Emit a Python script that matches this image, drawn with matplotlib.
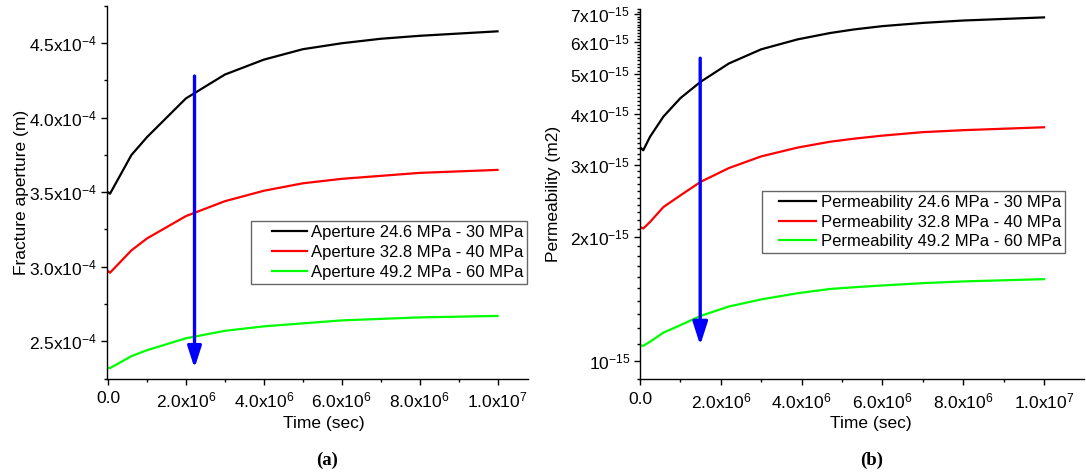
import numpy as np
import matplotlib
matplotlib.use('Agg')
import matplotlib.pyplot as plt
from matplotlib.lines import Line2D
from matplotlib.legend_handler import HandlerLine2D
from matplotlib.ticker import FixedLocator, NullFormatter

plt.rcParams['font.family'] = ['Liberation Sans', 'DejaVu Sans']
plt.rcParams['mathtext.fontset'] = 'custom'
plt.rcParams['mathtext.rm'] = 'Liberation Sans'
plt.rcParams['mathtext.default'] = 'regular'

# ---- data ----
# (a) fracture aperture (m) vs time (sec)
time_a = [0, 0.05e6, 0.6e6, 1e6, 2e6, 3e6, 4e6, 5e6, 6e6, 7e6, 8e6, 9e6, 1e7]
aperture_1 = [3.50e-4, 3.49e-4, 3.75e-4, 3.87e-4, 4.13e-4, 4.29e-4, 4.39e-4, 4.46e-4,
              4.50e-4, 4.53e-4, 4.55e-4, 4.565e-4, 4.58e-4]
aperture_2 = [2.97e-4, 2.96e-4, 3.11e-4, 3.19e-4, 3.34e-4, 3.44e-4, 3.51e-4, 3.56e-4,
              3.59e-4, 3.61e-4, 3.63e-4, 3.64e-4, 3.65e-4]
aperture_3 = [2.32e-4, 2.32e-4, 2.40e-4, 2.44e-4, 2.52e-4, 2.57e-4, 2.60e-4, 2.62e-4,
              2.64e-4, 2.65e-4, 2.66e-4, 2.665e-4, 2.67e-4]
labels_a = ['Aperture 24.6 MPa - 30 MPa', 'Aperture 32.8 MPa - 40 MPa',
            'Aperture 49.2 MPa - 60 MPa']

# (b) permeability (m2) vs time (sec)
time_b = [0, 0.08e6, 0.25e6, 0.58e6, 1e6, 1.5e6, 2.2e6, 3e6, 3.9e6, 4.7e6, 5.3e6,
          6e6, 7e6, 8e6, 9e6, 1e7]
perm_1 = [3.32, 3.26, 3.52, 3.94, 4.37, 4.79, 5.31, 5.75, 6.08, 6.30, 6.43,
          6.55, 6.67, 6.76, 6.82, 6.88]
perm_2 = [2.12, 2.10, 2.18, 2.37, 2.53, 2.73, 2.95, 3.15, 3.31, 3.42, 3.48,
          3.54, 3.61, 3.65, 3.68, 3.71]
perm_3 = [1.09, 1.086, 1.112, 1.17, 1.22, 1.285, 1.355, 1.41, 1.46, 1.495, 1.51,
          1.525, 1.545, 1.56, 1.57, 1.58]
perm_1 = [v * 1e-15 for v in perm_1]
perm_2 = [v * 1e-15 for v in perm_2]
perm_3 = [v * 1e-15 for v in perm_3]
labels_b = ['Permeability 24.6 MPa - 30 MPa', 'Permeability 32.8 MPa - 40 MPa',
            'Permeability 49.2 MPa - 60 MPa']

# arrows (time, start value, end value)
arrow_a = (2.22e6, 4.28e-4, 2.32e-4)
arrow_b = (1.49e6, 5.47e-15, 1.09e-15)

# ticks
x_ticks = [0, 2e6, 4e6, 6e6, 8e6, 1e7]
x_ticklabels = ['0.0', '2.0x10$^{6}$', '4.0x10$^{6}$', '6.0x10$^{6}$',
                '8.0x10$^{6}$', '1.0x10$^{7}$']
ya_ticks = [2.5e-4, 3.0e-4, 3.5e-4, 4.0e-4, 4.5e-4]
ya_ticklabels = ['2.5x10$^{-4}$', '3.0x10$^{-4}$', '3.5x10$^{-4}$',
                 '4.0x10$^{-4}$', '4.5x10$^{-4}$']
yb_ticks = [1e-15, 2e-15, 3e-15, 4e-15, 5e-15, 6e-15, 7e-15]
yb_ticklabels = ['10$^{-15}$', '2x10$^{-15}$', '3x10$^{-15}$', '4x10$^{-15}$',
                 '5x10$^{-15}$', '6x10$^{-15}$', '7x10$^{-15}$']

colors = ['black', '#ff0000', '#00ff00']

W, H = 1086, 475
fig = plt.figure(figsize=(W / 100, H / 100), dpi=100)


def px_rect(x0, y0, x1, y1):
    """axes rectangle from pixel edges (top-left origin)"""
    return [x0 / W, 1 - y1 / H, (x1 - x0) / W, (y1 - y0) / H]


ax_a = fig.add_axes(px_rect(106.5, 6, 527.9, 378.5))
ax_b = fig.add_axes(px_rect(640, 9.3, 1084, 379.3))


def style_axes(ax):
    for side in ['top', 'right']:
        ax.spines[side].set_visible(False)
    for side in ['left', 'bottom']:
        ax.spines[side].set_linewidth(1.0)
    ax.tick_params(which='major', direction='out', length=4, width=1.0,
                   labelsize=12.5, pad=3)
    ax.tick_params(which='minor', direction='out', length=2.5, width=1.0)
    ax.tick_params(axis='x', which='major', pad=5)
    ax.set_xticks(x_ticks)
    ax.set_xticklabels(x_ticklabels)
    ax.xaxis.set_minor_locator(FixedLocator(np.arange(1e6, 1.01e7, 2e6)))


# ---- panel (a) ----
lines_a = []
for ys, c in zip([aperture_1, aperture_2, aperture_3], colors):
    ln, = ax_a.plot(time_a, ys, color=c, lw=1.6)
    lines_a.append(ln)
ax_a.set_xlim(-0.04e6, 1.078e7)
ax_a.set_ylim(2.25e-4, 4.75e-4)
style_axes(ax_a)
ax_a.set_yticks(ya_ticks)
ax_a.set_yticklabels(ya_ticklabels)
ax_a.yaxis.set_minor_locator(FixedLocator(np.arange(2.25e-4, 4.8e-4, 0.5e-4)))
ax_a.set_xlabel('Time (sec)', fontsize=12.5)
ax_a.set_ylabel('Fracture aperture (m)', fontsize=12.5)
ax_a.xaxis.set_label_coords(0.515, -0.10)
ax_a.yaxis.set_label_coords(-0.185, 0.5)
ax_a.annotate('', xy=(arrow_a[0], arrow_a[2]), xytext=(arrow_a[0], arrow_a[1]),
              arrowprops=dict(arrowstyle='-|>,head_length=13,head_width=4.2',
                              mutation_scale=1, color='#0000ff', lw=2.4,
                              shrinkA=0, shrinkB=0))
fig.legend(lines_a, labels_a, loc='upper left',
           bbox_to_anchor=(250.7 / W, 1 - 221 / H), borderaxespad=0,
           fontsize=12, frameon=True, fancybox=False, edgecolor='#666666',
           framealpha=1, borderpad=0.25, labelspacing=0.28,
           handlelength=3.1, handletextpad=0.25,
           handler_map={Line2D: HandlerLine2D(xpad=1.0)})

# ---- panel (b) ----
lines_b = []
for ys, c in zip([perm_1, perm_2, perm_3], colors):
    ln, = ax_b.plot(time_b, ys, color=c, lw=1.6)
    lines_b.append(ln)
ax_b.set_yscale('log')
ax_b.set_xlim(0, 1.099e7)
ax_b.set_ylim(0.9e-15, 7.2e-15)
style_axes(ax_b)
ax_b.yaxis.set_major_locator(FixedLocator(yb_ticks))
ax_b.set_yticklabels(yb_ticklabels)
ax_b.yaxis.set_minor_locator(FixedLocator(np.arange(9, 73) * 1e-16))
ax_b.yaxis.set_minor_formatter(NullFormatter())
ax_b.tick_params(axis='y', which='minor', length=2)
ax_b.set_xlabel('Time (sec)', fontsize=12.5)
ax_b.set_ylabel('Permeability (m2)', fontsize=12.5)
ax_b.xaxis.set_label_coords(0.52, -0.099)
ax_b.yaxis.set_label_coords(-0.178, 0.5)
ax_b.annotate('', xy=(arrow_b[0], arrow_b[2]), xytext=(arrow_b[0], arrow_b[1]),
              arrowprops=dict(arrowstyle='-|>,head_length=14,head_width=4.5',
                              mutation_scale=1, color='#0000ff', lw=2.4,
                              shrinkA=0, shrinkB=0))
fig.legend(lines_b, labels_b, loc='upper left',
           bbox_to_anchor=(761.7 / W, 1 - 190.7 / H), borderaxespad=0,
           fontsize=12, frameon=True, fancybox=False, edgecolor='#666666',
           framealpha=1, borderpad=0.25, labelspacing=0.28,
           handlelength=3.0, handletextpad=0.28,
           handler_map={Line2D: HandlerLine2D(xpad=0.78)})

# captions
fig.text(327 / W, 1 - 460 / H, '(a)', ha='center', va='center', fontsize=13.5,
         fontweight='bold', family=['Liberation Serif', 'DejaVu Serif'])
fig.text(872 / W, 1 - 460 / H, '(b)', ha='center', va='center', fontsize=13.5,
         fontweight='bold', family=['Liberation Serif', 'DejaVu Serif'])

fig.savefig('out.png', dpi=100)
